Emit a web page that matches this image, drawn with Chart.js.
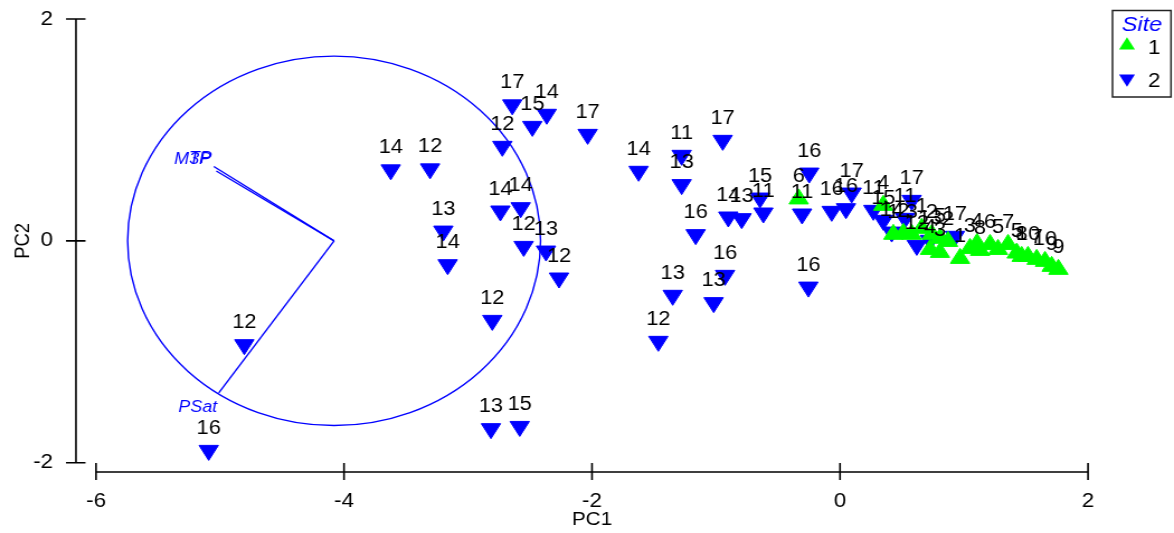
<!DOCTYPE html>
<html>
<head>
<meta charset="utf-8">
<script src="https://cdn.jsdelivr.net/npm/chart.js@4.4.1/dist/chart.umd.min.js"></script>
<style>
html,body{margin:0;padding:0;background:#fff;overflow:hidden;}
#c{display:block;width:1174px;height:533px;}
</style>
</head>
<body>
<canvas id="c" width="1050" height="533" style="width:1174px;height:533px"></canvas>
<script>
// ---------------- data ----------------
const legendTitle = 'Site';
const site1Name = '1';
const site1X = [-0.333, 0.349, 0.430, 0.511, 0.578, 0.659, 0.740, 0.726, 0.806, 0.806, 0.871, 0.968, 1.048, 1.105, 1.129, 1.210, 1.274, 1.355, 1.425, 1.465, 1.516, 1.586, 1.653, 1.707, 1.761];
const site1Y = [0.378, 0.320, 0.059, 0.068, 0.059, 0.113, 0.059, -0.077, 0.023, -0.104, -0.005, -0.158, -0.068, -0.023, -0.086, -0.032, -0.077, -0.032, -0.110, -0.140, -0.140, -0.167, -0.185, -0.230, -0.257];
const site1Labels = ['6','4','1','2','3','1','2','4','5','3','2','1','3','4','8','6','5','7','5','8','10','7','10','9','9'];

const site2Name = '2';
const site2X = [-3.623, -3.306, -2.643, -2.481, -2.365, -2.035, -2.723, -2.739, -2.575, -3.199, -3.164, -2.551, -2.371, -2.266, -4.804, -2.804, -2.815, -2.583, -5.091, -1.624, -1.277, -1.277, -0.946, -1.164, -0.901, -0.793, -0.645, -0.618, -0.306, -0.248, -0.067, 0.048, 0.094, -0.927, -1.019, -1.349, -1.465, -0.255, 0.269, 0.349, 0.417, 0.524, 0.578, 0.619, 0.726, 0.927];
const site2Y = [0.640, 0.649, 1.226, 1.032, 1.141, 0.960, 0.852, 0.269, 0.299, 0.088, -0.215, -0.050, -0.092, -0.335, -0.936, -0.717, -1.693, -1.673, -1.889, 0.627, 0.771, 0.507, 0.906, 0.056, 0.215, 0.200, 0.386, 0.251, 0.242, 0.611, 0.266, 0.290, 0.431, -0.311, -0.557, -0.491, -0.906, -0.417, 0.275, 0.185, 0.079, 0.203, 0.365, -0.041, 0.005, 0.041];
const site2Labels = ['14','12','17','15','14','17','12','14','14','13','14','12','13','12','12','12','13','15','16','14','11','13','17','16','14','13','15','11','11','16','16','16','17','16','13','13','12','16','11','15','14','11','17','12','13','17'];

const vectorNames = ['TP', 'M3P', 'PSat'];
const vectorX = [-5.05, -5.03, -5.01];
const vectorY = [0.67, 0.63, -1.37];
const circleCenterX = -4.08;
const circleCenterY = 0;
const circleRadius = 1.665;

const xTickValues = [-6, -4, -2, 0, 2];
const yTickValues = [-2, 0, 2];
const xMin = -6, xMax = 2, yMin = -2, yMax = 2;
const xTitle = 'PC1';
const yTitle = 'PC2';

// ---------------- style ----------------
const S = 1174 / 1050;            // horizontal stretch of the exported picture
const ip = v => v / S;            // displayed px -> internal canvas px
const FONT = "'Liberation Sans', Arial, Helvetica, sans-serif";
const GREEN = '#00ff00';
const BLUE = '#0000ff';

const toPts = (xs, ys) => xs.map((v, i) => ({x: v, y: ys[i]}));

const vectorDatasets = vectorNames.map((n, i) => ({
  type: 'scatter',
  label: 'vec_' + n,
  data: [{x: circleCenterX, y: circleCenterY}, {x: vectorX[i], y: vectorY[i]}],
  showLine: true,
  borderColor: BLUE,
  borderWidth: 1.4,
  pointRadius: 0,
  order: 5,
  isVector: true
}));

const circlePlugin = {
  id: 'circle',
  beforeDatasetsDraw(chart) {
    const {ctx, scales: {x, y}} = chart;
    const cx = x.getPixelForValue(circleCenterX), cy = y.getPixelForValue(circleCenterY);
    const rx = Math.abs(x.getPixelForValue(circleCenterX + circleRadius) - cx);
    const ry = Math.abs(y.getPixelForValue(circleCenterY + circleRadius) - cy);
    ctx.save();
    ctx.strokeStyle = BLUE; ctx.lineWidth = 1.4;
    ctx.beginPath(); ctx.ellipse(cx, cy, rx, ry, 0, 0, Math.PI * 2); ctx.stroke();
    ctx.restore();
  }
};

const vectorLabelOffsets = [[-2, -3.2], [-5.3, -6.6], [-1.6, 19.6]];
const labelsPlugin = {
  id: 'pointLabels',
  afterDatasetsDraw(chart) {
    const {ctx} = chart;
    ctx.save();
    ctx.font = '19.5px ' + FONT;
    ctx.fillStyle = '#000';
    ctx.textAlign = 'center';
    ctx.textBaseline = 'alphabetic';
    chart.data.datasets.forEach((ds, di) => {
      if (!ds.pointLabels) return;
      const meta = chart.getDatasetMeta(di);
      meta.data.forEach((el, j) => {
        ctx.fillText(ds.pointLabels[j], el.x, el.y - 16.5);
      });
    });
    ctx.font = 'italic 16px ' + FONT;
    ctx.fillStyle = BLUE;
    ctx.textAlign = 'right';
    chart.data.datasets.forEach((ds, di) => {
      if (!ds.isVector) return;
      const vi = vectorNames.indexOf(ds.label.slice(4));
      const el = chart.getDatasetMeta(di).data[1];
      const off = vectorLabelOffsets[vi];
      ctx.fillText(vectorNames[vi], el.x + ip(off[0]), el.y + off[1]);
    });
    ctx.restore();
  }
};

const axesPlugin = {
  id: 'axesLines',
  afterDraw(chart) {
    const {ctx, scales: {x, y}} = chart;
    ctx.save();
    ctx.strokeStyle = '#000'; ctx.lineWidth = 1.6;
    const yAxisX = ip(76);
    ctx.beginPath();
    ctx.moveTo(yAxisX, y.getPixelForValue(yMax)); ctx.lineTo(yAxisX, y.getPixelForValue(yMin));
    yTickValues.forEach(v => { const p = y.getPixelForValue(v); ctx.moveTo(ip(66), p); ctx.lineTo(ip(85.5), p); });
    const xAxisY = 472;
    ctx.moveTo(x.getPixelForValue(xMin), xAxisY); ctx.lineTo(x.getPixelForValue(xMax), xAxisY);
    xTickValues.forEach(v => { const p = x.getPixelForValue(v); ctx.moveTo(p, 463); ctx.lineTo(p, 480); });
    ctx.stroke();
    ctx.restore();
  }
};

const legendPlugin = {
  id: 'siteLegend',
  afterDraw(chart) {
    const {ctx} = chart;
    const pts = chart.data.datasets.filter(d => d.pointLabels);
    ctx.save();
    ctx.strokeStyle = '#222'; ctx.lineWidth = 1.5;
    ctx.strokeRect(ip(1112.5), 10.5, ip(1171) - ip(1112.5), 86.5);
    ctx.font = 'italic 21px ' + FONT;
    ctx.fillStyle = BLUE; ctx.textAlign = 'center'; ctx.textBaseline = 'alphabetic';
    ctx.fillText(legendTitle, ip(1142), 31);
    const rows = [45.5, 78.5];
    pts.forEach((ds, i) => {
      const cx = ip(1127), cy = rows[i], r = 8.2;
      const rot = (ds.rotation || 0) * Math.PI / 180;
      ctx.beginPath();
      for (let k = 0; k < 3; k++) {
        const a = rot + k * 2 * Math.PI / 3;
        const xx = cx + Math.sin(a) * r, yy = cy - Math.cos(a) * r;
        if (k === 0) ctx.moveTo(xx, yy); else ctx.lineTo(xx, yy);
      }
      ctx.closePath();
      ctx.fillStyle = ds.backgroundColor; ctx.fill();
      ctx.fillStyle = '#000'; ctx.font = '20px ' + FONT; ctx.textAlign = 'left';
      ctx.fillText(ds.label, ip(1148), cy + 8);
    });
    ctx.restore();
  }
};

new Chart(document.getElementById('c'), {
  type: 'scatter',
  data: {
    datasets: [
      {
        label: site1Name,
        data: toPts(site1X, site1Y),
        pointLabels: site1Labels,
        pointStyle: 'triangle',
        rotation: 0,
        pointRadius: 10,
        pointHoverRadius: 10,
        borderWidth: 1,
        backgroundColor: GREEN,
        borderColor: GREEN,
        order: 1
      },
      {
        label: site2Name,
        data: toPts(site2X, site2Y),
        pointLabels: site2Labels,
        pointStyle: 'triangle',
        rotation: 180,
        pointRadius: 10,
        pointHoverRadius: 10,
        borderWidth: 1,
        backgroundColor: BLUE,
        borderColor: BLUE,
        order: 2
      },
      ...vectorDatasets
    ]
  },
  options: {
    responsive: false,
    animation: false,
    devicePixelRatio: 1,
    events: [],
    layout: {padding: {left: 0, top: 19, right: 1050 - ip(1088), bottom: 0}},
    plugins: {legend: {display: false}, tooltip: {enabled: false}},
    scales: {
      x: {
        type: 'linear', min: xMin, max: xMax,
        afterBuildTicks: s => { s.ticks = xTickValues.map(v => ({value: v})); },
        afterFit: s => { s.height = 533 - 462.7; s.paddingLeft = 5; s.paddingRight = 5; },
        grid: {display: false}, border: {display: false},
        ticks: {color: '#000', font: {family: FONT, size: 20}, padding: 18.5, maxRotation: 0, autoSkip: false},
        title: {display: true, text: xTitle, color: '#000', font: {family: FONT, size: 18.5}, padding: {top: 0, bottom: 2}}
      },
      y: {
        type: 'linear', min: yMin, max: yMax,
        afterBuildTicks: s => { s.ticks = yTickValues.map(v => ({value: v})); },
        afterFit: s => { s.width = ip(96); s.paddingTop = 5; s.paddingBottom = 5; },
        grid: {display: false}, border: {display: false},
        ticks: {color: '#000', font: {family: FONT, size: 20}, padding: ip(96) - ip(62), autoSkip: false},
        title: {display: true, text: yTitle, color: '#000', font: {family: FONT, size: 18.5}, padding: {top: ip(23) - 11.1, bottom: 0}}
      }
    }
  },
  plugins: [circlePlugin, labelsPlugin, axesPlugin, legendPlugin]
});
</script>
</body>
</html>
